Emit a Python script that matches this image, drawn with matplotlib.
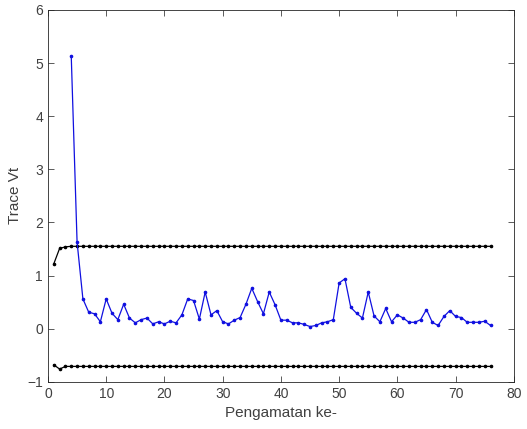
import matplotlib.pyplot as plt

plt.rcParams['font.family'] = ['Liberation Sans', 'DejaVu Sans']

# blue trace values, observations 4..76
obs_trace = list(range(4, 77))
trace_vt = [5.13, 1.63,
            0.56, 0.31, 0.28, 0.13, 0.56, 0.29, 0.17, 0.46, 0.20, 0.11,
            0.17, 0.20, 0.09, 0.13, 0.09, 0.14, 0.11, 0.26, 0.56, 0.53,
            0.18, 0.69, 0.26, 0.34, 0.13, 0.09, 0.16, 0.21, 0.46, 0.76,
            0.51, 0.28, 0.69, 0.45, 0.16, 0.16, 0.11, 0.11, 0.08, 0.04,
            0.06, 0.11, 0.13, 0.17, 0.86, 0.94, 0.40, 0.29, 0.20, 0.69,
            0.24, 0.13, 0.38, 0.13, 0.26, 0.20, 0.12, 0.12, 0.17, 0.36,
            0.12, 0.06, 0.23, 0.34, 0.23, 0.21, 0.12, 0.12, 0.12, 0.14,
            0.06]

# control limits, observations 1..76
obs_limit = list(range(1, 77))
upper = [1.22, 1.51, 1.54] + [1.55] * 73
lower = [-0.68, -0.76, -0.71] + [-0.71] * 73

fig = plt.figure(figsize=(5.27, 4.29), dpi=100)
ax = fig.add_axes([0.091, 0.110, 0.884, 0.867])

ax.plot(obs_limit, upper, '-k.', lw=0.9, ms=3.2)
ax.plot(obs_limit, lower, '-k.', lw=0.9, ms=3.2)
ax.plot(obs_trace, trace_vt, color='#1010e0', linestyle='-', marker='.',
        lw=0.9, ms=3.2)

ax.set_xlim(0, 80)
ax.set_ylim(-1, 6)
ax.set_xticks(range(0, 81, 10))
ax.set_yticks(range(-1, 7))

grey = '#262626'
ax.tick_params(direction='in', top=True, right=True, length=4,
               labelsize=10, colors='#404040', width=0.6)
for s in ax.spines.values():
    s.set_color(grey)
    s.set_linewidth(0.6)

ax.set_xlabel('Pengamatan ke-', fontsize=11, color='#404040')
ax.set_ylabel('Trace Vt', fontsize=11, color='#404040')

fig.savefig('out.png', dpi=100)
